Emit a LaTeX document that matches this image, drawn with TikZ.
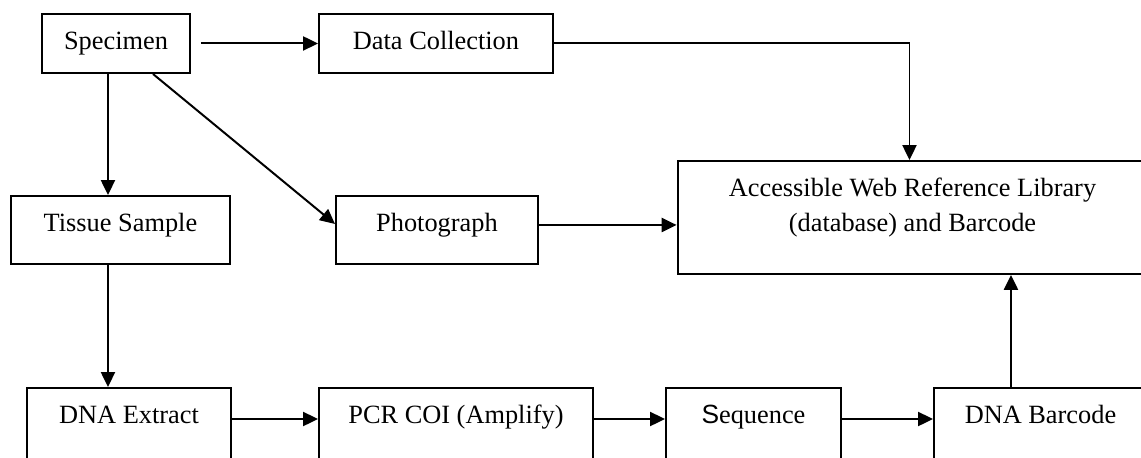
\documentclass[tikz,border=0pt]{standalone}
\usepackage{fontspec}
\setmainfont{Liberation Serif}
\newfontfamily\capsans{Liberation Sans}
\usepackage{tikz}
\usetikzlibrary{
    arrows.meta,
    positioning
}
\newcommand{\px}{0.016cm}
\tikzset{
    stepbox/.style={rectangle, draw=black, line width=0.9pt, anchor=north west,
        inner xsep=0pt, inner ysep=0pt, text height=16.16pt,
        font=\fontsize{12}{15.9}\selectfont},
    flow/.style={-{Triangle[length=6.8pt, width=6.4pt]}, line width=0.9pt}
}

\begin{document}
\begin{tikzpicture}[x=\px, y=-\px]

    \useasboundingbox (0,0) rectangle (1141,457);
    \clip (0,0) rectangle (1141,457);

    % Top row
    \node[stepbox, minimum width=148*\px, text depth=10.7pt] (spec) at (41,13) {Specimen};
    \node[stepbox, minimum width=234*\px, text depth=10.7pt] (data) at (318,13) {Data Collection};

    % Middle row
    \node[stepbox, minimum width=219*\px, text depth=14.8pt] (tissue) at (10,195) {Tissue Sample};
    \node[stepbox, minimum width=202*\px, text depth=14.8pt] (photo) at (335,195) {Photograph};
    \node[stepbox, minimum width=213.96pt, text width=213.96pt, align=flush center,
          text depth=35.28pt] (lib) at (676.6,160) {Accessible Web Reference Library\\(database) and Barcode};

    % Bottom row (runs past the page edge)
    \node[stepbox, minimum width=204*\px, text depth=29.36pt] (dnaext) at (26,387) {DNA Extract};
    \node[stepbox, minimum width=274*\px, text depth=29.36pt] (pcr) at (318,387) {PCR COI (Amplify)};
    \node[stepbox, minimum width=175*\px, text depth=29.36pt] (seq) at (665,387) {{\capsans S}equence};
    \node[stepbox, minimum width=213*\px, text depth=29.36pt] (dnabar) at (933,387) {DNA Barcode};

    % Connectors
    \coordinate (v1) at ([xshift=-8*\px]spec.south);
    \coordinate (p1) at ([yshift=5*\px]photo.east);
    \coordinate (u1) at ([xshift=-29.5*\px]dnabar.north);

    \draw[flow] ([xshift=10*\px]spec.east) -- (data.west);
    \draw[flow] (data.east) -| ([xshift=-3*\px]lib.north);
    \draw[flow] (v1) -- (v1 |- tissue.north);
    \draw[flow] ([xshift=37*\px]spec.south) -- ([yshift=6*\px]photo.west);
    \draw[flow] (p1) -- (p1 -| lib.west);
    \draw[flow] (v1 |- tissue.south) -- (v1 |- dnaext.north);
    \foreach \a/\b in {dnaext/pcr, pcr/seq, seq/dnabar}
        \draw[flow] ([yshift=-32*\px]\a.north east) -- ([yshift=-32*\px]\b.north west);
    \draw[flow] (u1) -- (u1 |- lib.south);

\end{tikzpicture}
\end{document}
